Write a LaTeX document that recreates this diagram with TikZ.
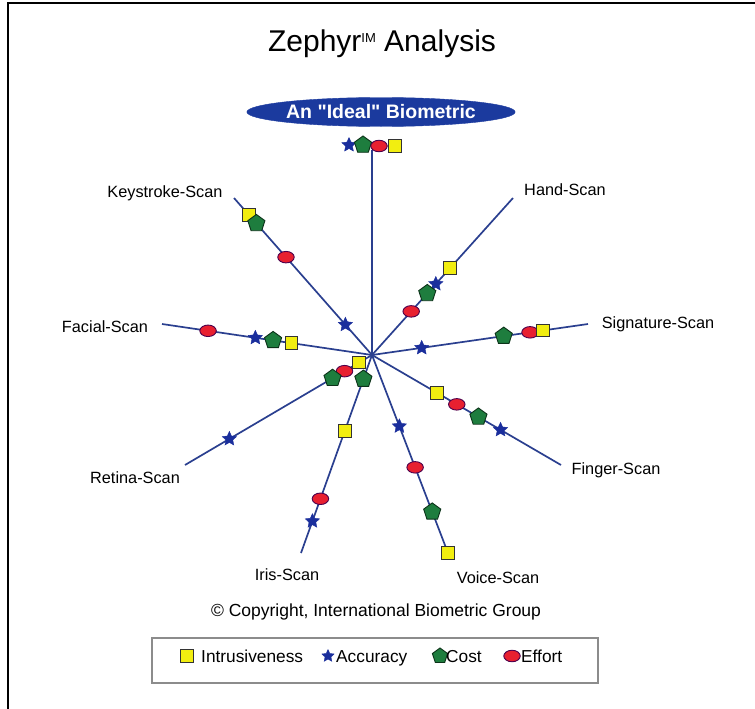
\documentclass[tikz,border=0pt]{standalone}
\usepackage{fontspec}
\setmainfont{Liberation Sans}
\newfontfamily\plainquotes{Liberation Sans}[Ligatures=TeXOff]
\usetikzlibrary{shapes.geometric,calc}
\definecolor{lineblue}{HTML}{2A3F8F}
\definecolor{starblue}{HTML}{1A2E9C}
\definecolor{costgreen}{HTML}{1E7D3E}
\definecolor{effred}{HTML}{E82030}
\definecolor{intyellow}{HTML}{F2EE10}
\definecolor{ovalblue}{HTML}{1B3A9E}
\begin{document}
\begin{tikzpicture}[x=1pt,y=-1pt,
 arm/.style={draw=lineblue, line width=1.7pt},
 intr/.style={rectangle, draw=black!80, fill=intyellow, line width=1pt, minimum size=12.5pt, inner sep=0pt},
 acc/.style={star, star points=5, star point ratio=2.1, fill=starblue, draw=starblue, minimum size=15pt, inner sep=0pt},
 cost/.style={regular polygon, regular polygon sides=5, fill=costgreen, draw=black!60!costgreen, line width=0.9pt, minimum size=18pt, inner sep=0pt},
 eff/.style={ellipse, fill=effred, draw=violet!60!black, line width=0.9pt, minimum width=16.5pt, minimum height=11.5pt, inner sep=0pt},
 lbl/.style={font=\fontsize{16.3}{18}\selectfont, inner sep=0pt},
 legtxt/.style={font=\fontsize{17.3}{19}\selectfont, inner sep=0pt, anchor=base west},
]
\useasboundingbox (0,0) rectangle (755,709);
% frame
\draw[line width=1.8pt] (8,709) -- (8,3) -- (755,3);

% title
\node[font=\fontsize{30}{34}\selectfont, inner sep=0pt] (title) at (382,44) {Zephyr\raisebox{9pt}{\fontsize{13}{14}\selectfont IM} Analysis};

% ideal oval
\node[ellipse, fill=ovalblue, draw=ovalblue, minimum width=218pt, minimum height=29pt, inner sep=0pt,
      text=white, font=\plainquotes\bfseries\fontsize{19.5}{21}\selectfont] (ideal) at (381,112) {An "Ideal" Biometric};

% center and arm ends
\coordinate (c) at (372,355);
\coordinate (eI) at (372,150);
\coordinate (eK) at (234,198);
\coordinate (eF) at (162,324);
\coordinate (eH) at (513,198);
\coordinate (eS) at (588,324);
\coordinate (eG) at (561,465);
\coordinate (eV) at (448,553);
\coordinate (eR) at (185,465);
\coordinate (eY) at (301,553);

\foreach \e in {eI,eK,eF,eH,eS,eG,eV,eR,eY} \draw[arm] (c) -- (\e);

% ideal markers
\node[acc]  (iA) at (349,145) {};
\node[cost] (iC) at (363,145) {};
\node[eff]  (iE) at (379,146) {};
\node[intr] (iI) at (395,146) {};

% keystroke
\node[intr] (kI) at ($(c)!(249,215)!(eK)$) {};
\node[cost] (kC) at ($(c)!(258,222)!(eK)$) {};
\node[eff]  (kE) at ($(c)!(285,258)!(eK)$) {};
\node[acc]  (kA) at ($(c)!(345,325)!(eK)$) {};

% facial
\node[eff]  (fE) at ($(c)!(208,331)!(eF)$) {};
\node[acc]  (fA) at ($(c)!(255,340)!(eF)$) {};
\node[cost] (fC) at ($(c)!(273,341)!(eF)$) {};
\node[intr] (fI) at ($(c)!(291,345)!(eF)$) {};

% hand
\node[intr] (hI) at ($(c)!(452,270)!(eH)$) {};
\node[acc]  (hA) at ($(c)!(437,285)!(eH)$) {};
\node[cost] (hC) at ($(c)!(429,295)!(eH)$) {};
\node[eff]  (hE) at ($(c)!(413,313)!(eH)$) {};

% signature
\node[acc]  (sA) at ($(c)!(422,350)!(eS)$) {};
\node[cost] (sC) at ($(c)!(504,338)!(eS)$) {};
\node[eff]  (sE) at ($(c)!(530,332)!(eS)$) {};
\node[intr] (sI) at ($(c)!(543,330)!(eS)$) {};

% finger
\node[intr] (gI) at ($(c)!(437,393)!(eG)$) {};
\node[eff]  (gE) at ($(c)!(457,404)!(eG)$) {};
\node[cost] (gC) at ($(c)!(479,416)!(eG)$) {};
\node[acc]  (gA) at ($(c)!(501,429)!(eG)$) {};

% voice
\node[acc]  (vA) at ($(c)!(400,426)!(eV)$) {};
\node[eff]  (vE) at ($(c)!(416,467)!(eV)$) {};
\node[cost] (vC) at ($(c)!(432,512)!(eV)$) {};
\node[intr] (vI) at (448,553) {};

% retina
\node[intr] (rI) at ($(c)!(360,364)!(eR)$) {};
\node[eff]  (rE) at ($(c)!(345,372)!(eR)$) {};
\node[cost] (rC) at ($(c)!(333,379)!(eR)$) {};
\node[acc]  (rA) at ($(c)!(230,440)!(eR)$) {};

% iris
\node[cost] (yC) at ($(c)!(366,380)!(eY)$) {};
\node[intr] (yI) at ($(c)!(345,431)!(eY)$) {};
\node[eff]  (yE) at ($(c)!(321,499)!(eY)$) {};
\node[acc]  (yA) at ($(c)!(312,521)!(eY)$) {};

% labels
\node[lbl] (lK) at (165,193) {Keystroke-Scan};
\node[lbl] (lH) at (565,190) {Hand-Scan};
\node[lbl] (lF) at (105,327) {Facial-Scan};
\node[lbl] (lS) at (658,324) {Signature-Scan};
\node[lbl] (lG) at (616,470) {Finger-Scan};
\node[lbl] (lR) at (135,478) {Retina-Scan};
\node[lbl] (lY) at (287,575) {Iris-Scan};
\node[lbl] (lV) at (498,578) {Voice-Scan};

% copyright
\node[font=\fontsize{17.5}{19}\selectfont, inner sep=0pt] (copy) at (376,612) {© Copyright, International Biometric Group};

% legend
\node[draw=black!45, line width=1.5pt, minimum width=446pt, minimum height=45pt, inner sep=0pt] (legend) at (375,660.5) {};
\node[intr] (lgI) at (187,656) {};
\node[legtxt] (lgIt) at (201,662) {Intrusiveness};
\node[acc, minimum size=13pt] (lgA) at (328,656) {};
\node[legtxt] (lgAt) at (336,662) {Accuracy};
\node[cost, minimum size=16pt] (lgC) at (440,656) {};
\node[legtxt] (lgCt) at (446,662) {Cost};
\node[eff] (lgE) at (512,656) {};
\node[legtxt] (lgEt) at (521,662) {Effort};
\end{tikzpicture}
\end{document}
